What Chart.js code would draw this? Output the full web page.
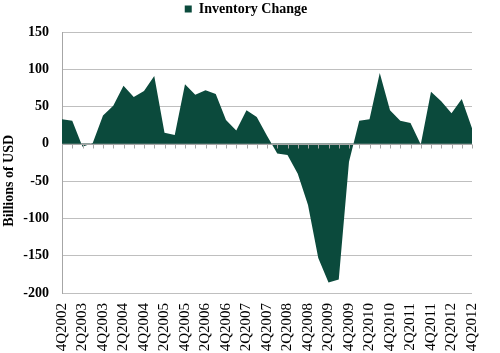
<!DOCTYPE html>
<html>
<head>
<meta charset="utf-8">
<script src="https://cdn.jsdelivr.net/npm/chart.js@4"></script>
<style>
  html, body { margin: 0; padding: 0; background: #fff; }
  #wrap { width: 500px; height: 353px; }
</style>
</head>
<body>
<div id="wrap"><canvas id="invChart" width="500" height="353"></canvas></div>
<script>
// quarters 4Q2002 .. 4Q2012
const quarters = [
  "4Q2002", "1Q2003", "2Q2003", "3Q2003", "4Q2003", "1Q2004", "2Q2004", "3Q2004", "4Q2004",
  "1Q2005", "2Q2005", "3Q2005", "4Q2005", "1Q2006", "2Q2006", "3Q2006", "4Q2006",
  "1Q2007", "2Q2007", "3Q2007", "4Q2007", "1Q2008", "2Q2008", "3Q2008", "4Q2008",
  "1Q2009", "2Q2009", "3Q2009", "4Q2009", "1Q2010", "2Q2010", "3Q2010", "4Q2010",
  "1Q2011", "2Q2011", "3Q2011", "4Q2011", "1Q2012", "2Q2012", "3Q2012", "4Q2012"
];
const inventoryChange = [
  33, 31, -4, 1, 38, 51, 78, 63, 71, 91, 15, 12, 80, 66, 72, 67, 32,
  18, 45, 36, 11, -13, -15, -40, -82, -153, -186, -182, -24, 31, 33, 95, 45,
  31, 28, -1, 70, 57, 41, 60, 21
];
const yTicks = [-200, -150, -100, -50, 0, 50, 100, 150];
const seriesName = "Inventory Change";
const yTitle = "Billions of USD";

const green = "#0b4a3c";
const serif = "'Liberation Serif', 'DejaVu Serif', serif";

// zero axis line with small tick marks, drawn over the area like Excel does
const zeroAxis = {
  id: "zeroAxis",
  afterInit(chart) {
    // keep the legend band a fixed height so the plot starts lower
    const lg = chart.legend;
    const fit = lg.fit.bind(lg);
    lg.fit = function () { fit(); this.height = 32; };
  },
  afterDatasetsDraw(chart) {
    const { ctx, chartArea, scales } = chart;
    const y0 = Math.round(scales.y.getPixelForValue(0)) + 0.5;
    ctx.save();
    ctx.strokeStyle = "#a6a6a6";
    ctx.lineWidth = 1;
    ctx.beginPath();
    ctx.moveTo(chartArea.left, y0);
    ctx.lineTo(chartArea.right, y0);
    quarters.forEach((q, i) => {
      const x = Math.round(scales.x.getPixelForValue(i)) + 0.5;
      ctx.moveTo(x, y0);
      ctx.lineTo(x, y0 + 4);
    });
    ctx.stroke();
    ctx.restore();
  },
  afterDraw(chart) {
    const { ctx, chartArea } = chart;
    ctx.save();
    ctx.translate(9, chartArea.top + (chartArea.bottom - chartArea.top) * 0.57);
    ctx.rotate(-Math.PI / 2);
    ctx.font = "bold 14px " + serif;
    ctx.fillStyle = "#000";
    ctx.textAlign = "center";
    ctx.textBaseline = "middle";
    ctx.fillText(yTitle, 0, 0);
    ctx.restore();
  }
};

new Chart(document.getElementById("invChart").getContext("2d"), {
  type: "line",
  data: {
    labels: quarters,
    datasets: [{
      label: seriesName,
      data: inventoryChange,
      fill: "origin",
      backgroundColor: green,
      borderColor: green,
      borderWidth: 0,
      pointRadius: 0,
      tension: 0
    }]
  },
  options: {
    responsive: false,
    animation: false,
    layout: { padding: { top: 0, right: 8, bottom: 0, left: 0 } },
    plugins: {
      legend: {
        position: "top",
        labels: {
          boxWidth: 7,
          boxHeight: 7,
          padding: 2,
          color: "#000",
          font: { family: serif, size: 14, weight: "bold" }
        }
      },
      tooltip: { enabled: false }
    },
    scales: {
      x: {
        offset: false,
        grid: { display: false, drawTicks: false },
        border: { display: false },
        ticks: {
          autoSkip: false,
          maxRotation: 90,
          minRotation: 90,
          padding: 10,
          color: "#000",
          font: { family: serif, size: 15 },
          callback: (v, i) => (i % 2 === 0 ? quarters[i] : "")
        },
        afterFit: s => { s.height = 60; }
      },
      y: {
        min: -200,
        max: 150,
        afterBuildTicks: s => { s.ticks = yTicks.map(v => ({ value: v })); },
        grid: { color: "#bfbfbf", drawTicks: false },
        border: { color: "#a6a6a6" },
        ticks: {
          padding: 13,
          color: "#000",
          font: { family: serif, size: 14, weight: "bold" }
        },
        afterFit: s => { s.width = 62; }
      }
    }
  },
  plugins: [zeroAxis]
});
</script>
</body>
</html>
